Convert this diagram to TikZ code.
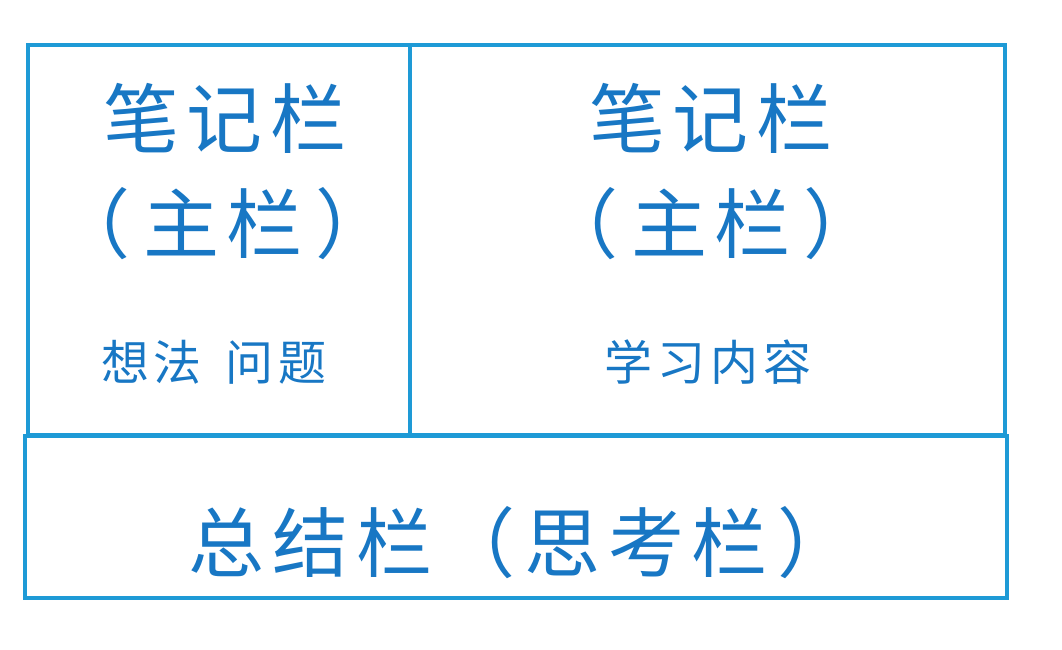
\documentclass[tikz,border=0pt]{standalone}
\usepackage{fontspec}
\newfontfamily\cjk[LetterSpace=10]{Noto Sans CJK SC}
\definecolor{framecol}{HTML}{1E9AD6}
\definecolor{labelcol}{HTML}{1877C4}

\begin{document}
\begin{tikzpicture}[x=1pt,y=-1pt,
    framebox/.style={draw=framecol,line width=4.8pt,rectangle,inner sep=0pt},
    bigtext/.style={text=labelcol,font=\cjk\fontsize{76}{80}\selectfont,inner sep=0pt},
    smalltext/.style={text=labelcol,font=\cjk\fontsize{48}{52}\selectfont,inner sep=0pt}]
            \useasboundingbox (0,0) rectangle (1062,649);

            \node[framebox,minimum width=382pt,minimum height=390pt] (cue) at (219,240) {};
            \node[framebox,minimum width=595pt,minimum height=390pt] (main) at (707.5,240) {};
            \node[framebox,minimum width=982pt,minimum height=162pt] (summary) at (516,517) {};

            \node[bigtext] (cuetitle) at (225,118) {笔记栏};
            \node[bigtext] (cuesub) at (223,224) {（\hspace{0.17em}主栏\hspace{0.17em}）};
            \node[smalltext] (cuenote) at (214,362) {想法\hspace{0.5em}问题};

            \node[bigtext] (maintitle) at (711,118) {笔记栏};
            \node[bigtext] (mainsub) at (711,224) {（\hspace{0.17em}主栏\hspace{0.17em}）};
            \node[smalltext] (mainnote) at (708,362) {学习内容};

            \node[bigtext] (summarytitle) at (521,543) {总结栏（\hspace{0.12em}思考栏\hspace{0.12em}）};
          \end{tikzpicture}
\end{document}
